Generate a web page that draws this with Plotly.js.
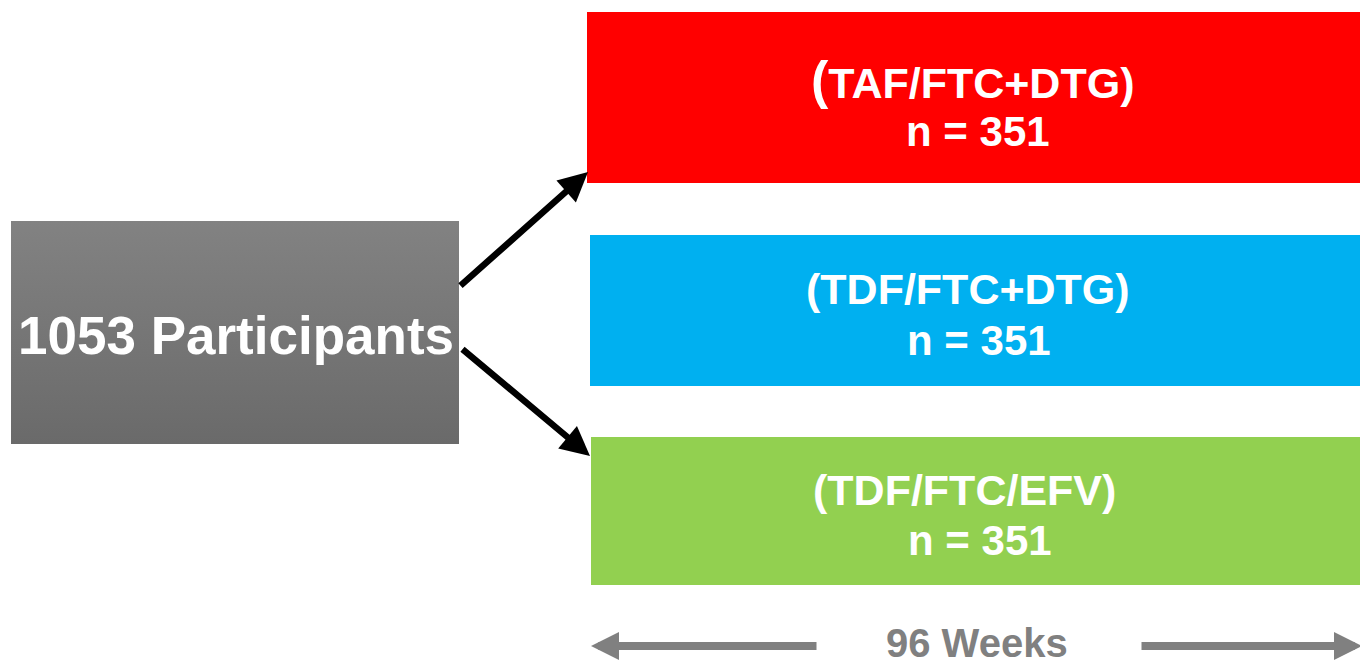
<!DOCTYPE html>
<html>
<head>
<meta charset="utf-8">
<script src="https://cdn.plot.ly/plotly-3.0.1.min.js"></script>
<style>html,body{margin:0;padding:0;background:#fff;}#chart{width:1360px;height:669px;}</style>
</head>
<body>
<div id="chart"></div>
<script>
// ---- data ----
var totalParticipants = 1053;
var armLabels = ['(TAF/FTC+DTG)', '(TDF/FTC+DTG)', '(TDF/FTC/EFV)'];
var armN = [351, 351, 351];
var durationLabel = '96 Weeks';

// ---- layout (pixel-like coordinate space) ----
var W = 1360, H = 669;
var armColors = ['#ff0000', '#00b0f0', '#92d050'];
var armBoxes = [
  {x0: 587, x1: 1360, y0: 12, y1: 183},
  {x0: 590, x1: 1360, y0: 235, y1: 386},
  {x0: 591, x1: 1360, y0: 437, y1: 585}
];
var line1Pos = [{x: 972, y: 80}, {x: 968, y: 289}, {x: 964, y: 490}];
var line2Pos = [{x: 978, y: 131}, {x: 979, y: 340}, {x: 980, y: 540}];
var srcBox = {x0: 11, x1: 459, y0: 221, y1: 444};
var font = 'Liberation Sans, Arial, sans-serif';

var traces = [{
  type: 'scatter', mode: 'lines',
  x: [srcBox.x0, srcBox.x1, srcBox.x1, srcBox.x0, srcBox.x0],
  y: [srcBox.y0, srcBox.y0, srcBox.y1, srcBox.y1, srcBox.y0],
  fill: 'toself', line: {width: 0, color: 'rgba(0,0,0,0)'},
  fillgradient: {type: 'vertical', colorscale: [[0, '#6a6a6a'], [1, '#828282']]},
  hoverinfo: 'skip', showlegend: false
}];

var shapes = armBoxes.map(function (b, i) {
  return {type: 'rect', xref: 'x', yref: 'y', x0: b.x0, x1: b.x1, y0: b.y0, y1: b.y1,
    fillcolor: armColors[i], line: {width: 0}, layer: 'below'};
});

var annotations = [];
annotations.push({
  x: (srcBox.x0 + srcBox.x1) / 2 + 1, y: 335, xref: 'x', yref: 'y',
  text: '<b>' + totalParticipants + ' Participants</b>', showarrow: false,
  font: {family: font, size: 53, color: '#ffffff'}, xanchor: 'center', yanchor: 'middle'
});
armLabels.forEach(function (lab, i) {
  var t = lab;
  if (i === 0) t = '<span style="font-size:52px">(</span>' + lab.slice(1);
  annotations.push({
    x: line1Pos[i].x, y: line1Pos[i].y, xref: 'x', yref: 'y',
    text: '<b>' + t + '</b>', showarrow: false,
    font: {family: font, size: 43, color: '#ffffff'}, xanchor: 'center', yanchor: 'middle'
  });
  annotations.push({
    x: line2Pos[i].x, y: line2Pos[i].y, xref: 'x', yref: 'y',
    text: '<b>n = ' + armN[i] + '</b>', showarrow: false,
    font: {family: font, size: 42, color: '#ffffff'}, xanchor: 'center', yanchor: 'middle'
  });
});
// black branching arrows
annotations.push({x: 588, y: 172, ax: 459, ay: 287, xref: 'x', yref: 'y', axref: 'x', ayref: 'y',
  text: '', showarrow: true, arrowhead: 2, arrowsize: 0.9, arrowwidth: 6.5, arrowcolor: '#000000'});
annotations.push({x: 590, y: 456, ax: 461, ay: 348, xref: 'x', yref: 'y', axref: 'x', ayref: 'y',
  text: '', showarrow: true, arrowhead: 2, arrowsize: 0.9, arrowwidth: 6.5, arrowcolor: '#000000'});
// duration arrows and label
annotations.push({x: 591, y: 646, ax: 818, ay: 646, xref: 'x', yref: 'y', axref: 'x', ayref: 'y',
  text: '', showarrow: true, arrowhead: 2, arrowsize: 0.7, arrowwidth: 8, arrowcolor: '#808080'});
annotations.push({x: 1362, y: 646, ax: 1140, ay: 646, xref: 'x', yref: 'y', axref: 'x', ayref: 'y',
  text: '', showarrow: true, arrowhead: 2, arrowsize: 0.7, arrowwidth: 8, arrowcolor: '#808080'});
annotations.push({
  x: 977, y: 643, xref: 'x', yref: 'y',
  text: '<b>' + durationLabel + '</b>', showarrow: false,
  font: {family: font, size: 40, color: '#808080'}, xanchor: 'center', yanchor: 'middle'
});

var layout = {
  width: W, height: H,
  margin: {l: 0, r: 0, t: 0, b: 0},
  paper_bgcolor: '#ffffff', plot_bgcolor: '#ffffff',
  xaxis: {range: [0, W], visible: false, fixedrange: true},
  yaxis: {range: [H, 0], visible: false, fixedrange: true},
  shapes: shapes, annotations: annotations, showlegend: false
};
Plotly.newPlot('chart', traces, layout, {displayModeBar: false, staticPlot: true});
</script>
</body>
</html>
